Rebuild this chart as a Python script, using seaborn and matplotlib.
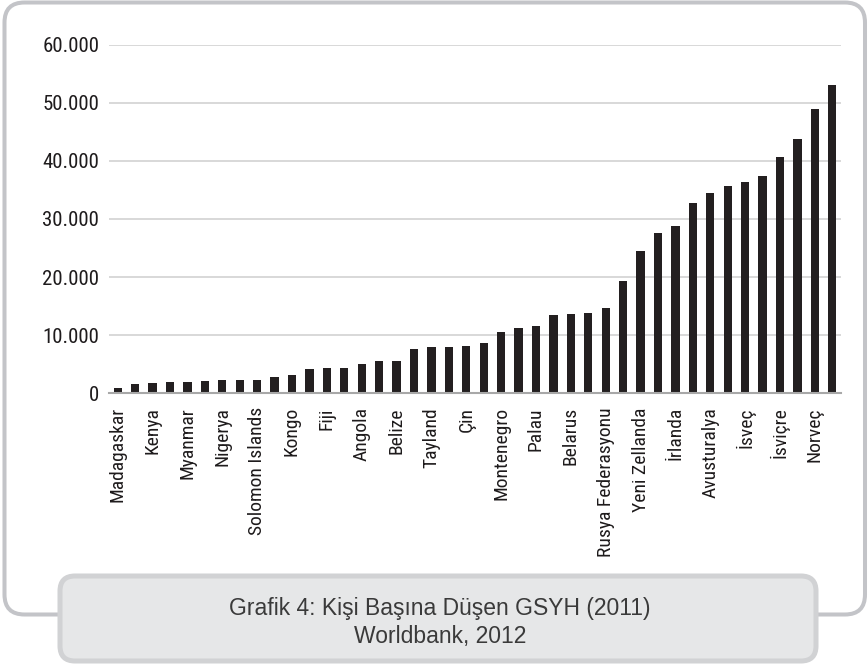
import matplotlib
matplotlib.use("Agg")
import matplotlib.pyplot as plt
import seaborn as sns
import pandas as pd
from matplotlib import font_manager
from matplotlib.font_manager import FontProperties
from matplotlib.patches import FancyBboxPatch
from matplotlib.transforms import IdentityTransform
from matplotlib.ticker import FixedLocator

# ---------------- data ----------------
country_labels = ["Madagaskar", "Kenya", "Myanmar", "Nigerya", "Solomon Islands",
                  "Kongo", "Fiji", "Angola", "Belize", "Tayland", "Çin",
                  "Montenegro", "Palau", "Belarus", "Rusya Federasyonu",
                  "Yeni Zellanda", "İrlanda", "Avusturalya", "İsveç", "İsviçre",
                  "Norveç"]
gdp_values = [980, 1560, 1730, 1970, 1970, 2080, 2310, 2310, 2310, 2720,
              3120, 4160, 4280, 4340, 5030, 5490, 5610, 7690, 7980, 8040,
              8210, 8720, 10600, 11230, 11630, 13470, 13580, 13870, 14610, 19310,
              24530, 27560, 28830, 32660, 34500, 35590, 36280, 37420, 40630, 43670,
              48880, 52950]
y_ticks = [0, 10000, 20000, 30000, 40000, 50000, 60000]
y_tick_labels = ["0", "10.000", "20.000", "30.000", "40.000", "50.000", "60.000"]
caption_lines = ["Grafik 4: Kişi Başına Düşen GSYH (2011)", "Worldbank, 2012"]

# ---------------- style ----------------
sns.set_style("white")
plt.rcParams["font.family"] = ["DejaVu Sans"]


def find_condensed():
    best = None
    best_score = -1
    for f in font_manager.fontManager.ttflist:
        n = f.name
        st = str(f.stretch).lower()
        fn = f.fname.lower()
        if f.style != "normal":
            continue
        w = f.weight
        try:
            w = int(w)
        except Exception:
            w = 400 if str(w).lower() in ("normal", "regular", "book") else 0
        if w not in (400, 500):
            continue
        cond = ("condensed" in n.lower() or "narrow" in n.lower()
                or st in ("condensed", "semi-condensed", "extra-condensed")
                or "condensed" in fn or "narrow" in fn)
        if not cond:
            continue
        if "semi" in n.lower() or "semi" in fn or "extra" in n.lower() or "extra" in fn:
            score = 1
        else:
            score = 5
        if "roboto" in n.lower():
            score += 3
        if "liberation" in n.lower():
            score += 4
        if "noto sans" in n.lower() and "cjk" not in n.lower() and "mono" not in n.lower():
            score += 2
        if "cjk" in n.lower() or "mono" in n.lower() or "serif" in n.lower():
            score -= 10
        if w == 400:
            score += 1
        if score > best_score:
            best_score = score
            best = f
    return best


cf = find_condensed()
if cf is not None:
    y_fp = FontProperties(fname=cf.fname, size=15)
    x_fp = FontProperties(fname=cf.fname, size=14)
else:
    y_fp = FontProperties(family=["Roboto", "DejaVu Sans"], size=14)
    x_fp = FontProperties(family=["Roboto", "DejaVu Sans"], size=13)

W, H = 868, 670
fig = plt.figure(figsize=(W / 100, H / 100), dpi=100)
fig.patch.set_facecolor("white")

ax = fig.add_axes([109 / W, (H - 393.3) / H, 732 / W, 348.8 / H])
ax.set_facecolor("none")

df = pd.DataFrame({"pos": list(range(len(gdp_values))), "value": gdp_values})
sns.barplot(data=df, x="pos", y="value", color="#231f20", width=0.48,
            linewidth=0, saturation=1, ax=ax)

ax.set_xlim(-0.5, len(gdp_values) - 0.5)
ax.set_ylim(0, 60000)
ax.set_xlabel("")
ax.set_ylabel("")

ax.set_yticks(y_ticks)
ax.set_yticklabels(y_tick_labels, fontproperties=y_fp, color="#1e1b1c")
ax.tick_params(axis="y", length=0, pad=7)
ax.yaxis.grid(True, color="#d6d6d6", linewidth=1.3)
ax.xaxis.grid(False)
ax.set_axisbelow(True)

ax.set_xticks(list(range(0, len(gdp_values), 2)))
ax.set_xticklabels(country_labels, rotation=90, fontproperties=x_fp, color="#1e1b1c")
ax.tick_params(axis="x", which="major", length=0, pad=10)
ax.xaxis.set_minor_locator(FixedLocator([i - 0.5 for i in range(len(gdp_values) + 1)]))
ax.tick_params(axis="x", which="minor", length=4.5, width=1.2, color="#a8a8a8",
               direction="out")

for s in ["left", "top", "right"]:
    ax.spines[s].set_visible(False)
ax.spines["bottom"].set_color("#a8a8a8")
ax.spines["bottom"].set_linewidth(1.5)

# ---------------- frames ----------------
outer = FancyBboxPatch((4.5, H - 614.5), 860.5, 612,
                       boxstyle="round,pad=0,rounding_size=20",
                       transform=IdentityTransform(), facecolor="none",
                       edgecolor="#c3c4c8", linewidth=2.9, zorder=1)
fig.add_artist(outer)
cap = FancyBboxPatch((60, H - 661), 756, 85,
                     boxstyle="round,pad=0,rounding_size=15",
                     transform=IdentityTransform(), facecolor="#e6e7e8",
                     edgecolor="#d1d2d4", linewidth=3.6, zorder=2)
fig.add_artist(cap)

for line, yy in zip(caption_lines, [608, 636]):
    fig.text(440 / W, (H - yy) / H, line, ha="center", va="center",
             fontsize=16.5, color="#3a3a3a", family=["Liberation Sans", "DejaVu Sans"],
             zorder=3)

fig.savefig("out.png", dpi=100, facecolor="white")
